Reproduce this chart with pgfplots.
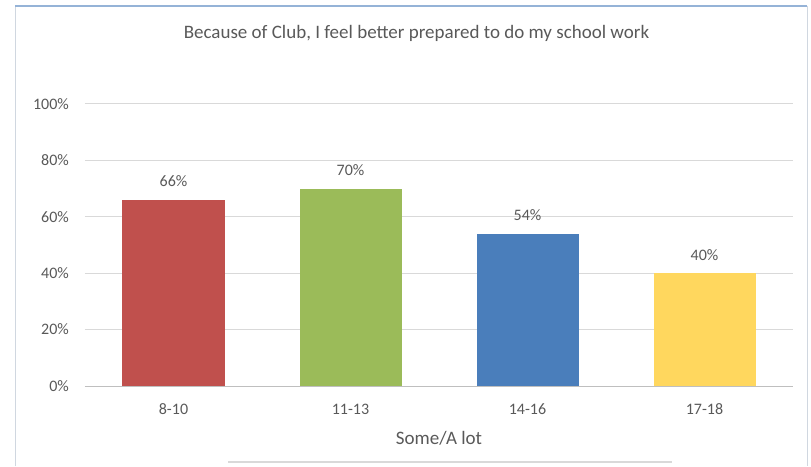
\documentclass[border=0pt]{standalone}
\usepackage{fontspec}
\setmainfont{Carlito}
\usepackage{pgfplots}
\pgfplotsset{compat=1.18}
\definecolor{txt}{HTML}{595959}
\definecolor{gridc}{HTML}{D9D9D9}
\definecolor{cred}{HTML}{C0504D}
\definecolor{cgreen}{HTML}{9BBB59}
\definecolor{cblue}{HTML}{4A7EBB}
\definecolor{cyellow}{HTML}{FFD75E}
\definecolor{frametop}{HTML}{95B3D7}
\definecolor{frameside}{HTML}{D0D7E0}
\begin{document}
\begin{tikzpicture}[x=1pt,y=1pt]
\path[use as bounding box] (0,0) rectangle (811,466);
\draw[frameside, line width=1pt] (15,0) -- (15,460) (807,460) -- (807,0);
\draw[frametop, line width=1.2pt] (15,460) -- (807,460);
\draw[gridc, line width=2pt] (228,4) -- (672,4);
\node[anchor=base, text=txt, font=\fontsize{19}{22}\selectfont, inner sep=0] at (416.5,427) {Because of Club, I feel better prepared to do my school work};
\begin{axis}[
  at={(85pt,80pt)}, anchor=south west,
  scale only axis, width=708pt, height=282pt,
  xmin=-0.5, xmax=3.5, ymin=0, ymax=100,
  axis line style={draw=none},
  xtick={0,1,2,3}, xticklabels={8-10,11-13,14-16,17-18},
  ytick={0,20,40,60,80,100},
  yticklabel={\pgfmathprintnumber{\tick}\%},
  /pgf/number format/assume math mode=true,
  major tick length=0pt,
  xmajorgrids=false, ymajorgrids=true,
  major grid style={draw=gridc, line width=1pt},
  tick label style={text=txt, font=\fontsize{16}{19}\selectfont},
  xticklabel style={anchor=base, yshift=-28pt, inner sep=0},
  yticklabel style={anchor=east, xshift=-16pt, inner sep=0},
  ybar, bar width=102pt, bar shift=0pt,
  nodes near coords={\pgfmathprintnumber{\pgfplotspointmeta}\%},
  nodes near coords style={anchor=base, yshift=13pt, inner sep=0, text=txt, font=\fontsize{16}{19}\selectfont, /pgf/number format/assume math mode=true},
  clip=false,
]
\addplot[draw=none, fill=cred] coordinates {(0,66)};
\addplot[draw=none, fill=cgreen] coordinates {(1,70)};
\addplot[draw=none, fill=cblue] coordinates {(2,54)};
\addplot[draw=none, fill=cyellow] coordinates {(3,40)};
\draw[color=black!25, line width=1pt] (axis cs:-0.5,0) -- (axis cs:3.5,0);
\node[anchor=base, text=txt, font=\fontsize{19}{22}\selectfont, inner sep=0] at (axis cs:1.5,0) [yshift=-58pt] {Some/A lot};
\end{axis}
\end{tikzpicture}
\end{document}
